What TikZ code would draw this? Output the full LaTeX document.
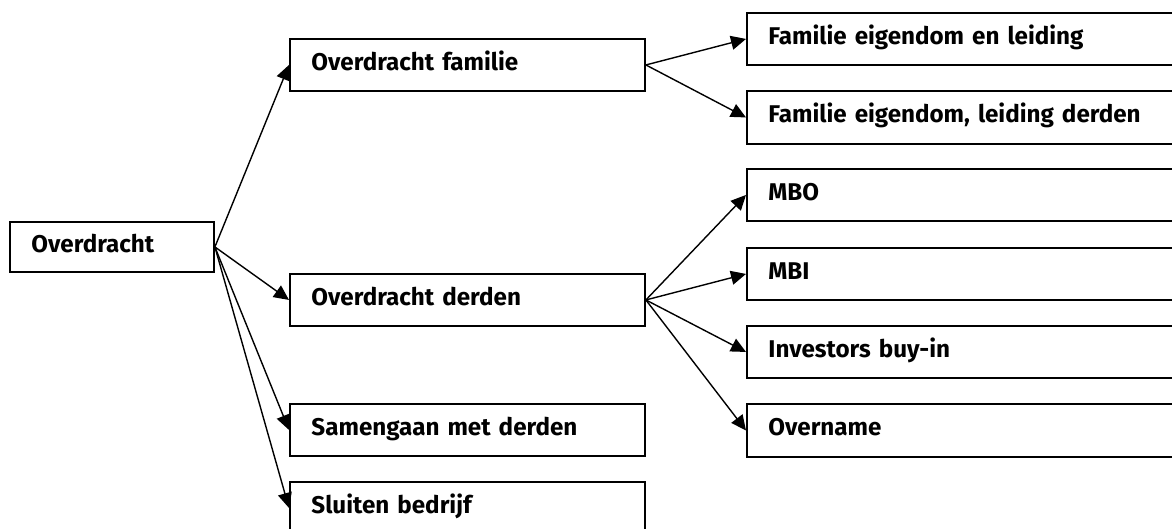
\documentclass[tikz,border=0pt]{standalone}
\usepackage{fontspec}
\setmainfont{Fira Sans}
\usetikzlibrary{arrows.meta}
\begin{document}
\begin{tikzpicture}[x=1pt,y=-1pt,
  box/.style={draw, line width=1.9pt, anchor=north west, inner xsep=21.5pt, inner ysep=0pt,
    align=left, text height=0.69em+4pt, text depth=0pt,
    font=\fontsize{24.2}{28}\selectfont\bfseries},
  conn/.style={line width=1.4pt, -{Triangle[length=15pt,width=14pt]}}]
\useasboundingbox (0,0) rectangle (1172,529);
\clip (0,0) rectangle (1172,529);
\node[box, text width=161pt, minimum height=50pt] (ov) at (9,221) {Overdracht};
\node[box, text width=312pt, minimum height=52pt] (of) at (289,38) {Overdracht familie};
\node[box, text width=312pt, minimum height=52pt] (od) at (289,273) {Overdracht derden};
\node[box, text width=312pt, minimum height=52pt] (sm) at (289,403) {Samengaan met derden};
\node[box, text width=312pt, minimum height=52pt] (sb) at (289,481) {Sluiten bedrijf};
\node[box, text width=420pt, minimum height=52pt] (f1) at (746,12) {Familie eigendom en leiding};
\node[box, text width=420pt, minimum height=53pt] (f2) at (746,90) {Familie eigendom, leiding derden};
\node[box, text width=420pt, minimum height=52pt] (mbo) at (746,168) {MBO};
\node[box, text width=420pt, minimum height=52pt] (mbi) at (746,247) {MBI};
\node[box, text width=420pt, minimum height=52pt] (inv) at (746,325) {Investors buy-in};
\node[box, text width=420pt, minimum height=53pt] (ovn) at (746,403) {Overname};
\draw[conn] (ov.east) -- (of.west);
\draw[conn] (ov.east) -- (od.west);
\draw[conn] (ov.east) -- (sm.west);
\draw[conn] (ov.east) -- (sb.west);
\draw[conn] (of.east) -- (f1.west);
\draw[conn] (of.east) -- (f2.west);
\draw[conn] (od.east) -- (mbo.west);
\draw[conn] (od.east) -- (mbi.west);
\draw[conn] (od.east) -- (inv.west);
\draw[conn] (od.east) -- (ovn.west);
\end{tikzpicture}
\end{document}
